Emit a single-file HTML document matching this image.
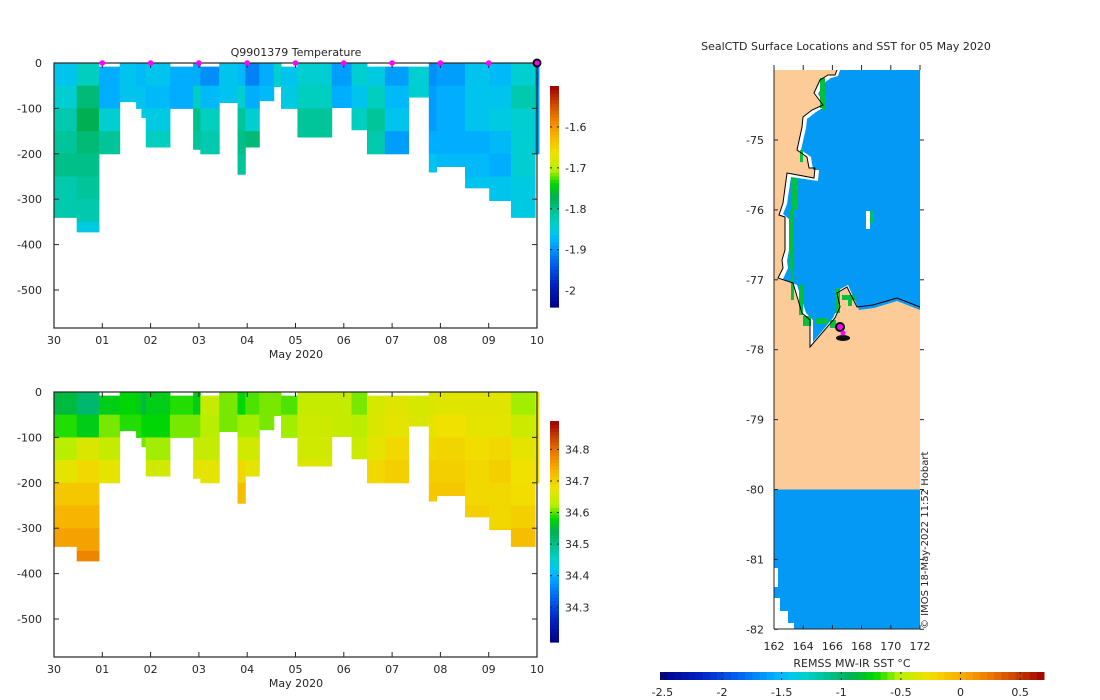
<!DOCTYPE html>
<html><head><meta charset="utf-8"><style>
html,body{margin:0;padding:0;background:#fff;}
svg{display:block;font-family:"DejaVu Sans","Liberation Sans",sans-serif;}
text{fill:#262626;font-size:11px;}
</style></head><body>
<svg id="fig" width="1100" height="700" viewBox="0 0 1100 700" xmlns="http://www.w3.org/2000/svg">
<rect width="1100" height="700" fill="#fff"/>
<g id="top"></g>
<g id="bot"></g>
<g id="map"></g>
</svg>
<script>
// ---- profile data ----
const profStart=[0,0.47,0.93,1.36,1.70,1.81,1.90,2.40,2.88,3.03,3.42,3.80,3.96,4.25,4.55,4.70,5.04,5.75,6.16,6.48,6.85,7.34,7.76,7.92,8.51,9.01,9.46,9.96];
const profEnd=[0.47,0.93,1.36,1.70,1.81,1.90,2.40,2.88,3.03,3.42,3.80,3.96,4.25,4.55,4.70,5.04,5.75,6.16,6.48,6.85,7.34,7.76,7.92,8.51,9.01,9.46,9.96,10.04];
const profDepth=[340,372,200,85,100,120,185,100,190,200,87,245,185,83,52,100,163,98,147,200,200,75,240,228,275,303,340,200];
const profTop=[0,0,8,0,0,0,0,8,0,8,0,0,0,0,0,8,0,0,0,8,8,8,0,0,0,0,0,0];
const tempBins=[
[-1.86,-1.84,-1.82,-1.81,-1.80,-1.82,-1.82],
[-1.83,-1.79,-1.77,-1.79,-1.80,-1.81,-1.82,-1.85],
[-1.88,-1.88,-1.84,-1.81],[-1.86,-1.86],[-1.87,-1.86],[-1.87,-1.86,-1.85],
[-1.86,-1.87,-1.85,-1.83],[-1.88,-1.88],[-1.88,-1.83,-1.80,-1.81],[-1.90,-1.87,-1.83,-1.82],
[-1.86,-1.86],[-1.87,-1.84,-1.81,-1.80,-1.81],[-1.91,-1.88,-1.84,-1.79],[-1.88,-1.87],
[-1.84,-1.84],[-1.86,-1.85],[-1.84,-1.83,-1.81,-1.81],[-1.89,-1.88],[-1.84,-1.86,-1.83],
[-1.85,-1.83,-1.81,-1.82],[-1.89,-1.87,-1.86,-1.89],[-1.84,-1.84],[-1.90,-1.89,-1.89,-1.88,-1.86],
[-1.89,-1.88,-1.88,-1.88,-1.87],[-1.86,-1.86,-1.86,-1.88,-1.87,-1.86],
[-1.87,-1.86,-1.85,-1.87,-1.88,-1.86,-1.86],[-1.84,-1.82,-1.84,-1.84,-1.84,-1.85,-1.85],
[-1.90,-1.89,-1.89,-1.89]];
const salBins=[
[34.55,34.59,34.63,34.67,34.71,34.73,34.75],
[34.52,34.57,34.66,34.69,34.71,34.73,34.75,34.78],
[34.57,34.61,34.64,34.67],[34.58,34.59],[34.57,34.59],[34.55,34.58,34.61],
[34.57,34.58,34.62,34.65],[34.59,34.61],[34.57,34.61,34.64,34.67],[34.64,34.63,34.64,34.67],
[34.61,34.61],[34.58,34.62,34.65,34.69,34.72],[34.60,34.62,34.65,34.67],[34.61,34.61],
[34.61,34.61],[34.60,34.62],[34.64,34.645,34.65,34.66],[34.64,34.64],[34.61,34.63,34.645],
[34.655,34.66,34.67,34.69],[34.665,34.67,34.69,34.70],[34.655,34.66],[34.66,34.67,34.69,34.70,34.71],
[34.665,34.68,34.695,34.70,34.71],[34.665,34.67,34.685,34.69,34.69,34.70],
[34.665,34.67,34.69,34.70,34.69,34.69,34.70],[34.62,34.645,34.67,34.68,34.685,34.70,34.72],
[34.67,34.675,34.68,34.68]];
const xTickLabels=["30","01","02","03","04","05","06","07","08","09","10"];
const yTickValues=[0,-100,-200,-300,-400,-500];
const markerDays=[1,2,3,4,5,6,7,8,9];
const tempCbTicks=[-1.6,-1.7,-1.8,-1.9,-2];
const salCbTicks=[34.8,34.7,34.6,34.5,34.4,34.3];
const lonTicks=[162,164,166,168,170,172];
const latTicks=[-75,-76,-77,-78,-79,-80,-81,-82];
const sstTicks=[-2.5,-2,-1.5,-1,-0.5,0,0.5];

const NS="http://www.w3.org/2000/svg";
function mk(tag,attrs,parent,txt){const e=document.createElementNS(NS,tag);for(const k in attrs)e.setAttribute(k,attrs[k]);if(txt!==undefined)e.textContent=txt;parent.appendChild(e);return e;}
const stops=[[0,[0,0,128]],[0.1,[0,32,192]],[0.2,[0,96,240]],[0.3,[0,176,255]],[0.34,[0,200,235]],[0.38,[0,208,200]],[0.44,[0,192,140]],[0.5,[0,176,80]],[0.56,[0,216,0]],[0.62,[180,240,0]],[0.7,[240,225,0]],[0.78,[248,176,0]],[0.86,[236,120,0]],[0.93,[200,64,0]],[1,[160,0,0]]];
function cmap(f){f=Math.max(0,Math.min(1,f));for(let i=1;i<stops.length;i++){if(f<=stops[i][0]){const a=stops[i-1],b=stops[i];const t=(f-a[0])/(b[0]-a[0]);const c=a[1].map((v,j)=>Math.round(v+(b[1][j]-v)*t));return `rgb(${c})`;}}return 'rgb(160,0,0)';}

function panel(g,y0,yAxisBottom,vals,vmin,vmax,cbTop,cbBot,cbTicks,title){
  const X0=54,X1=537,DAY=(X1-X0)/10,PXM=45.4;
  const xs=d=>X0+d*DAY, ys=m=>y0+m*PXM/100;
  for(let i=0;i<profStart.length;i++){
    const bins=vals[i];
    for(let b=0;b<bins.length;b++){
      const d0=Math.max(b*50,profTop[i]),d1=Math.min((b+1)*50,profDepth[i]);
      if(d1<=d0)continue;
      const r=mk('rect',{x:xs(profStart[i]),y:ys(d0),width:xs(profEnd[i])-xs(profStart[i])+0.5,height:ys(d1)-ys(d0)+0.5,fill:cmap((bins[b]-vmin)/(vmax-vmin))},g);
      
      
    }
  }
  mk('rect',{x:X0,y:y0,width:X1-X0,height:yAxisBottom-y0,fill:'none',stroke:'#262626','stroke-width':1.2,},g);
  xTickLabels.forEach((l,i)=>{const x=xs(i);mk('line',{x1:x,x2:x,y1:yAxisBottom,y2:yAxisBottom-5,stroke:'#262626'},g);mk('line',{x1:x,x2:x,y1:y0,y2:y0+5,stroke:'#262626'},g);
    const t=mk('text',{x:x,y:yAxisBottom+16,'text-anchor':'middle'},g,l);});
  mk('text',{x:296,y:yAxisBottom+30,'text-anchor':'middle',},g,'May 2020');
  yTickValues.forEach(v=>{const y=ys(-v);mk('line',{x1:X0,x2:X0+5,y1:y,y2:y,stroke:'#262626'},g);mk('line',{x1:X1,x2:X1-5,y1:y,y2:y,stroke:'#262626'},g);
    const t=mk('text',{x:X0-12,y:y+4,'text-anchor':'end'},g,String(v));});
  const cbx=550,cbw=9,N=64;
  for(let k=0;k<N;k++){const y=cbBot-(k+1)*(cbBot-cbTop)/N;mk('rect',{x:cbx,y:y,width:cbw,height:(cbBot-cbTop)/N+0.6,fill:cmap((k+0.5)/N)},g);}
  mk('rect',{x:cbx,y:cbTop,width:cbw,height:cbBot-cbTop,fill:'none',stroke:'none',},g);
  cbTicks.forEach(v=>{const y=cbBot-(v-vmin)/(vmax-vmin)*(cbBot-cbTop);mk('line',{x1:cbx,x2:cbx+2,y1:y,y2:y,stroke:'#262626'},g);mk('line',{x1:cbx+cbw-2,x2:cbx+cbw,y1:y,y2:y,stroke:'#262626'},g);
    const t=mk('text',{x:565,y:y+4},g,String(v));});
  if(title){mk('text',{x:296,y:56,'text-anchor':'middle',},g,title);
    markerDays.forEach(d=>{const c=mk('circle',{cx:xs(d),cy:y0,r:2.8,fill:'#ff00ff'},g);});
    mk('circle',{cx:xs(10),cy:y0,r:3.5,fill:'#ff00ff',stroke:'#000','stroke-width':2,},g);}
}
panel(document.getElementById('top'),63,328,tempBins,-2.04,-1.50,86,307,tempCbTicks,'Q9901379  Temperature');
panel(document.getElementById('bot'),392,657,salBins,34.19,34.89,421,642,salCbTicks,null);

// ---- map ----
const m=document.getElementById('map');
const MX0=774,MX1=920,MY0=70,MY1=629;
const lx=lon=>MX0+(lon-162)*(MX1-MX0)/10, ly=lat=>140+(-75-lat)*69.9;
mk('text',{x:846,y:50,'text-anchor':'middle',},m,'SealCTD Surface Locations and SST for 05 May 2020');
mk('rect',{x:MX0,y:MY0,width:MX1-MX0,height:MY1-MY0,fill:'#fdcb98',},m);
const coast="837,70 835,75 828,75 820,80 814,93 823,105 812,110 803,117 802,127 797,150 807,157 809,168 815,168 814,178 787,173 783,203 779,215 785,217 785,250 782,260 783,268 778,278 793,283 802,313 810,320 810,347 835,318 840,307 837,293 847,287 857,307 873,305 897,298 920,307";
mk('polygon',{points:coast+" 920,70",fill:'#fff'},m);
mk('polygon',{points:"840,70 838,76 831,78 824,83 818,94 826,106 816,112 807,119 806,128 801,150 811,157 813,170 819,170 818,181 791,177 787,204 783,214 789,219 789,250 787,261 788,268 783,279 797,285 806,313 813,320 813,342 833,318 838,307 835,292 848,285 859,310 874,308 897,301 920,310 920,70",fill:'#0499f5',},m);
[[820,78,5,30],[822,100,4,10],[800,150,3,12],[792,178,6,32],[789,210,4,60],[791,270,3,30],[799,285,4,30],[803,316,8,10],[816,318,12,6],[835,288,5,25],[842,295,14,5],[848,296,4,10],[830,320,6,8]].forEach(r=>{const e=mk('rect',{x:r[0],y:r[1],width:r[2],height:r[3],fill:'#00c040'},m);});
mk('rect',{x:866,y:211,width:4,height:18,fill:'#fff'},m);
mk('rect',{x:870,y:211,width:3,height:12,fill:'#00c070'},m);
mk('polyline',{points:coast,fill:'none',stroke:'#000','stroke-width':1,},m);
mk('rect',{x:MX0,y:ly(-80),width:MX1-MX0,height:MY1-ly(-80),fill:'#0499f5',},m);
[[774,568,4,19],[774,598,6,13],[774,611,14,12],[774,623,20,6]].forEach(r=>mk('rect',{x:r[0],y:r[1],width:r[2],height:r[3],fill:'#fff'},m));
mk('ellipse',{cx:843,cy:338,rx:7,ry:3,fill:'#111'},m);
mk('circle',{cx:840,cy:327,r:4,fill:'#ff00ff',stroke:'#000','stroke-width':2,},m);
mk('circle',{cx:843,cy:333,r:2.5,fill:'#ff00ff',},m);
mk('line',{x1:MX0,x2:MX0,y1:MY0,y2:MY1,stroke:'#262626'},m);
mk('line',{x1:MX0,x2:MX1,y1:MY1,y2:MY1,stroke:'#262626'},m);
lonTicks.forEach(v=>{const x=lx(v);mk('line',{x1:x,x2:x,y1:MY1,y2:MY1-4,stroke:'#262626'},m);mk('line',{x1:x,x2:x,y1:MY0,y2:MY0-5,stroke:'#262626'},m);
  const t=mk('text',{x:x,y:650,'text-anchor':'middle'},m,String(v));});
latTicks.forEach(v=>{const y=ly(v);mk('line',{x1:MX0,x2:MX0+4,y1:y,y2:y,stroke:'#262626'},m);mk('line',{x1:MX1,x2:MX1+4,y1:y,y2:y,stroke:'#262626'},m);
  const t=mk('text',{x:764,y:y+4,'text-anchor':'end'},m,String(v));});
mk('text',{x:0,y:0,transform:'translate(928,629) rotate(-90)',style:'font-size:10px',},m,'© IMOS 18-May-2022 11:52 Hobart');
const SX0=660,SX1=1044,SMIN=-2.52,SMAX=0.7,NS2=54;
for(let k=0;k<NS2;k++){const x=SX0+k*(SX1-SX0)/NS2;mk('rect',{x:x,y:672,width:(SX1-SX0)/NS2+0.5,height:8,fill:cmap((k+0.5)/NS2)},m);}
mk('rect',{x:SX0,y:672,width:SX1-SX0,height:8,fill:'none',},m);
mk('text',{x:852,y:667,'text-anchor':'middle',},m,'REMSS MW-IR SST °C');
sstTicks.forEach(v=>{const x=SX0+(v-SMIN)/(SMAX-SMIN)*(SX1-SX0);mk('line',{x1:x,x2:x,y1:672,y2:674,stroke:'#262626'},m);mk('line',{x1:x,x2:x,y1:678,y2:680,stroke:'#262626'},m);
  const t=mk('text',{x:x,y:696,'text-anchor':'middle'},m,String(v));});
</script>
</body></html>
